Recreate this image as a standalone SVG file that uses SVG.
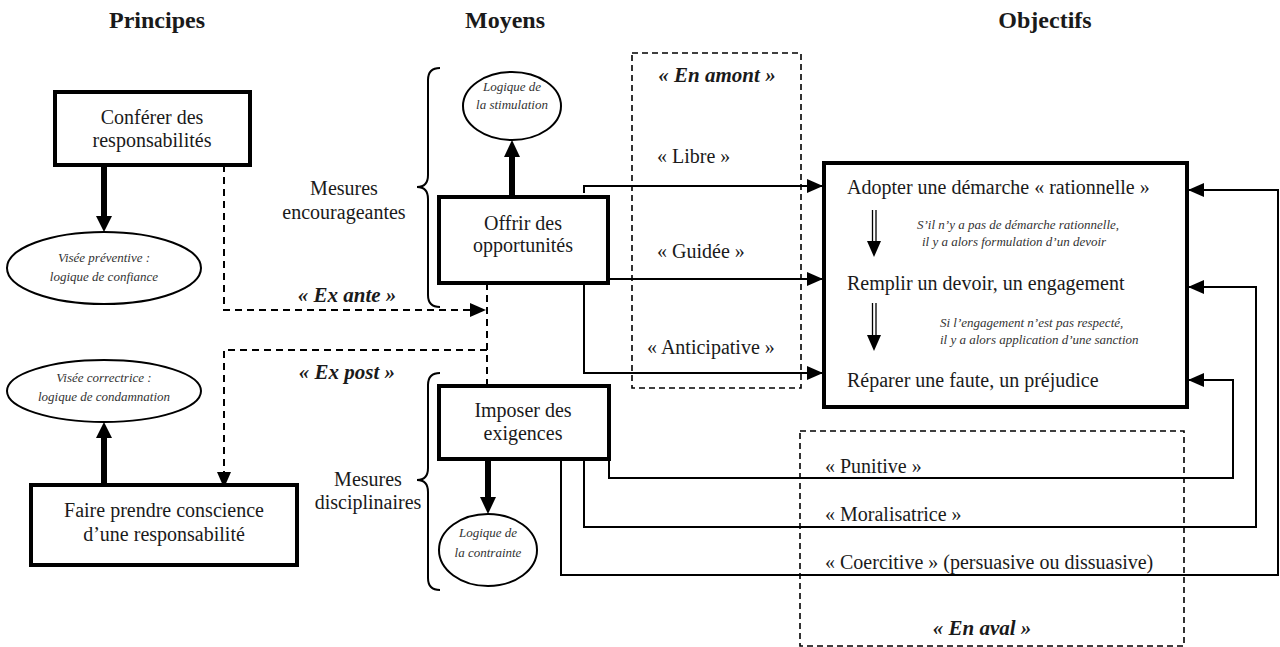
<svg xmlns="http://www.w3.org/2000/svg" width="1280" height="647" viewBox="0 0 1280 647">
<style>
text{font-family:"Liberation Serif","Times New Roman",serif;fill:#1a1a1a}
.title{font-size:24px;font-weight:bold;text-anchor:middle}
.t{font-size:20px}
.c{text-anchor:middle}
.it{font-size:13px;font-style:italic;fill:#333}
.bi{font-size:21px;font-style:italic;font-weight:bold;text-anchor:middle}
.box{fill:#fff;stroke:#000;stroke-width:4}
.ell{fill:#fff;stroke:#000;stroke-width:2}
.ln{fill:none;stroke:#000;stroke-width:2}
.dash{fill:none;stroke:#000;stroke-width:2;stroke-dasharray:7,5}
.zone{fill:none;stroke:#000;stroke-width:1.6;stroke-dasharray:6,4}
.thick{fill:none;stroke:#000;stroke-width:6}
</style>
<defs>
<marker id="arr" markerUnits="userSpaceOnUse" markerWidth="16" markerHeight="14" refX="16" refY="7" orient="auto">
<path d="M0,0 L16,7 L0,14 z" fill="#000"/>
</marker>
</defs>
<rect width="1280" height="647" fill="#fff"/>

<g id="titles">
<text class="title" x="157" y="28">Principes</text>
<text class="title" x="505" y="28">Moyens</text>
<text class="title" x="1045" y="28">Objectifs</text>
</g>

<g id="zones">
<rect class="zone" x="632" y="53" width="169" height="335"/>
<text class="bi" x="717" y="82">« En amont »</text>
<rect class="zone" x="800" y="431" width="384" height="215"/>
<text class="bi" x="982" y="635">« En aval »</text>
</g>

<g id="connectors">
<path class="thick" d="M104,165 V216" />
<path d="M96,216 L112,216 L104,232 z" fill="#000"/>
<path class="thick" d="M104,485 V438"/>
<path d="M96,438 L112,438 L104,422 z" fill="#000"/>
<path class="thick" d="M512,210 V157"/>
<path d="M504,157 L520,157 L512,140 z" fill="#000"/>
<path class="thick" d="M488,445 V497"/>
<path d="M480,497 L496,497 L488,514 z" fill="#000"/>
<path class="dash" d="M224,165 V310 H486" marker-end="url(#arr)"/>
<path class="dash" d="M487,283 V386"/>
<path class="dash" d="M487,350 H224 V488" marker-end="url(#arr)"/>
<path class="ln" d="M584,193 V186 H823" marker-end="url(#arr)"/>
<path class="ln" d="M584,269 V373 H823" marker-end="url(#arr)"/>
<path class="ln" d="M608,279 H823" marker-end="url(#arr)"/>
<path class="ln" d="M609,459 V478 H1233 V380 H1188" marker-end="url(#arr)"/>
<path class="ln" d="M584,455 V527 H1256 V287 H1188" marker-end="url(#arr)"/>
<path class="ln" d="M561,455 V575 H1278 V190 H1188" marker-end="url(#arr)"/>
<path class="ln" d="M440,68 Q428,68 428,80 V175 Q428,187 417,187 Q428,187 428,199 V295 Q428,307 440,307"/>
<path class="ln" d="M440,373 Q428,373 428,385 V468 Q428,480 417,480 Q428,480 428,492 V578 Q428,590 440,590"/>
</g>

<g id="box-conferer">
<rect class="box" x="55" y="92" width="195" height="73"/>
<text class="t c" x="152" y="124">Conférer des</text>
<text class="t c" x="152" y="147">responsabilités</text>
</g>
<g id="ell-preventive">
<ellipse class="ell" cx="104" cy="268" rx="97" ry="36"/>
<text class="it c" x="104" y="262">Visée préventive :</text>
<text class="it c" x="104" y="281">logique de confiance</text>
</g>
<g id="ell-correctrice">
<ellipse class="ell" cx="104" cy="391" rx="97" ry="31"/>
<text class="it c" x="104" y="382">Visée correctrice :</text>
<text class="it c" x="104" y="401">logique de condamnation</text>
</g>
<g id="box-faire">
<rect class="box" x="31" y="485" width="266" height="80"/>
<text class="t c" x="164" y="517">Faire prendre conscience</text>
<text class="t c" x="164" y="541">d’une responsabilité</text>
</g>

<g id="mesures-enc">
<text class="t c" x="344" y="195">Mesures</text>
<text class="t c" x="344" y="219">encourageantes</text>
</g>
<g id="mesures-disc">
<text class="t c" x="368" y="486">Mesures</text>
<text class="t c" x="368" y="509">disciplinaires</text>
</g>

<g id="ell-stimulation">
<ellipse class="ell" cx="512" cy="106" rx="49" ry="34"/>
<text class="it c" x="512" y="91">Logique de</text>
<text class="it c" x="512" y="109">la stimulation</text>
</g>
<g id="box-offrir">
<rect class="box" x="439" y="197" width="169" height="86"/>
<text class="t c" x="523" y="230">Offrir des</text>
<text class="t c" x="523" y="252">opportunités</text>
</g>
<g id="box-imposer">
<rect class="box" x="439" y="386" width="170" height="73"/>
<text class="t c" x="523" y="417">Imposer des</text>
<text class="t c" x="523" y="440">exigences</text>
</g>
<g id="ell-contrainte">
<ellipse class="ell" cx="488" cy="550" rx="49" ry="36"/>
<text class="it c" x="488" y="537">Logique de</text>
<text class="it c" x="488" y="557">la contrainte</text>
</g>

<g id="labels">
<text class="t" x="657" y="163">« Libre »</text>
<text class="t" x="657" y="258">« Guidée »</text>
<text class="t" x="647" y="354">« Anticipative »</text>
<text class="bi" x="347" y="302">« Ex ante »</text>
<text class="bi" x="347" y="379">« Ex post »</text>
<text class="t" x="825" y="473">« Punitive »</text>
<text class="t" x="825" y="521">« Moralisatrice »</text>
<text class="t" x="825" y="569">« Coercitive » (persuasive ou dissuasive)</text>
</g>

<g id="box-objectifs">
<rect class="box" x="824" y="163" width="363" height="244"/>
<text class="t" x="847" y="194">Adopter une démarche « rationnelle »</text>
<text class="t" x="847" y="290">Remplir un devoir, un engagement</text>
<text class="t" x="847" y="387">Réparer une faute, un préjudice</text>
<path class="ln" style="stroke-width:1.3" d="M872.5,210 V242 M876,210 V242"/>
<path d="M867,241 L881,241 L874,257 z" fill="#000"/>
<path class="ln" style="stroke-width:1.3" d="M872.5,303 V336 M876,303 V336"/>
<path d="M867,335 L881,335 L874,351 z" fill="#000"/>
<text class="it" x="917" y="229">S’il n’y a pas de démarche rationnelle,</text>
<text class="it" x="922" y="246">il y a alors formulation d’un devoir</text>
<text class="it" x="940" y="327">Si l’engagement n’est pas respecté,</text>
<text class="it" x="940" y="344">il y a alors application d’une sanction</text>
</g>
</svg>
